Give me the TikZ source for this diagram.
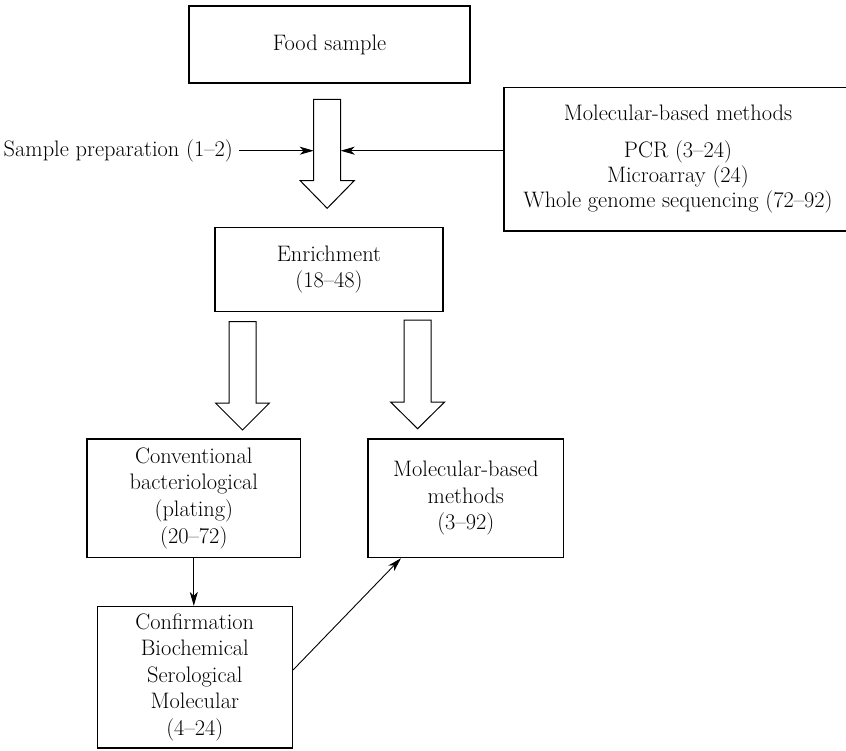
\documentclass[tikz,border=0pt]{standalone}
\usetikzlibrary{arrows.meta}
\newcommand\fs{\fontsize{22.4}{26.6}\selectfont}
\newcommand\blkarrow[4]{% centre x, top, head base, tip
  \draw[blk] (#1-13.5,#2) -- (#1+13.5,#2) -- (#1+13.5,#3) -- (#1+27,#3) -- (#1,#4)
    -- (#1-27,#3) -- (#1-13.5,#3) -- cycle;}
\tikzset{
  box/.style={draw, line width=1.5pt, inner sep=0pt, align=center, font=\fs, text=black},
  conn/.style={line width=0.9pt, -{Stealth[length=14pt,width=8pt,inset=4pt]}},
  blk/.style={draw, line width=1pt, fill=white, line join=miter},
}
\begin{document}
\begin{tikzpicture}[x=1pt,y=-1pt]
\useasboundingbox (0,0) rectangle (846,750);
% boxes
\node[box, minimum width=281pt, minimum height=77pt] (food) at (329.5,44.5) {Food sample};
\node[box, minimum width=348pt, minimum height=143.7pt] (molec) at (678,159.2)
  {Molecular-based methods\\[11pt]PCR (3--24)\\[-1.6pt]Microarray (24)\\[-1.6pt]Whole genome sequencing (72--92)};
\node[box, minimum width=228pt, minimum height=84pt] (enrich) at (329,269.4) {Enrichment\\(18--48)};
\node[box, minimum width=213.5pt, minimum height=118.5pt] (conv) at (193.8,498.2)
  {Conventional\\bacteriological\\(plating)\\(20--72)};
\node[box, minimum width=195.5pt, minimum height=118.5pt] (mol) at (465.8,498.2)
  {Molecular-based\\methods\\(3--92)};
\node[box, minimum width=195pt, minimum height=141.3pt] (conf) at (194.8,677.3)
  {Confirmation\\Biochemical\\Serological\\Molecular\\(4--24)};
\node[font=\fs, text=black, anchor=east, inner sep=0pt] (prep) at (233,150.7) {Sample preparation (1--2)};
% block arrows
\blkarrow{327.2}{99.3}{180.7}{208.3}
\blkarrow{242.5}{321.7}{403}{430}
\blkarrow{417.6}{320}{402}{428.7}
% connector end points
\coordinate (a1l) at (313.7,150.7);
\coordinate (a1r) at (340.7,150.7);
\coordinate (d1) at (292.3,670);
\coordinate (d2) at (401,557.5);
% connectors
\draw[conn] ([xshift=6pt]prep.east) -- (a1l);
\draw[conn] (molec.west |- a1r) -- (a1r);
\draw[conn] (conv.south) -- (conv.south |- conf.north);
\draw[conn] (conf.east |- d1) -- (mol.south -| d2);
\end{tikzpicture}
\end{document}
